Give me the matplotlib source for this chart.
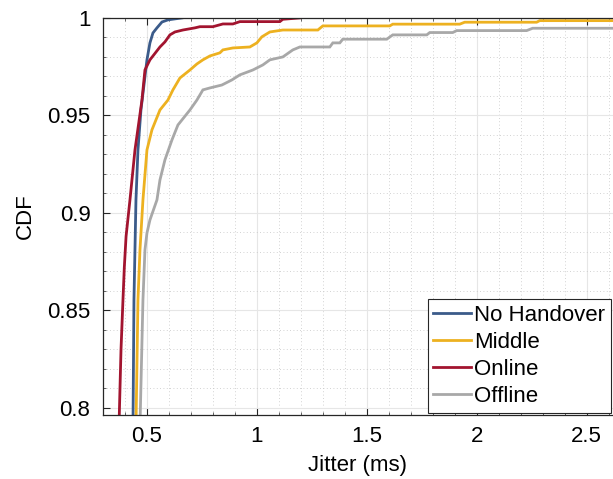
import matplotlib
matplotlib.use("Agg")
import matplotlib.pyplot as plt
from matplotlib.ticker import MultipleLocator, FormatStrFormatter

plt.rcParams['font.family'] = ['Liberation Sans', 'DejaVu Sans']

# CDF curves of jitter
no_handover_x = [0.4364, 0.4409, 0.45, 0.4591, 0.4727, 0.4864, 0.5, 0.5136, 0.5273,
                 0.5455, 0.5682, 0.5955, 0.6591]
no_handover_y = [0.79, 0.8554, 0.9067, 0.9323, 0.9528, 0.9656, 0.9785, 0.9872, 0.9923,
                 0.9949, 0.9979, 0.999, 1.0]

middle_x = [0.45, 0.4591, 0.4682, 0.4818, 0.5, 0.5227, 0.5591, 0.5955, 0.6182, 0.65,
            0.6955, 0.7273, 0.7545, 0.7864, 0.8318, 0.8455, 0.8909, 0.9682, 1.0, 1.0227,
            1.0591, 1.1182, 1.2773, 1.3, 1.6045, 1.6182, 1.9227, 1.9455, 2.2727, 2.2864, 2.7]
middle_y = [0.79, 0.8554, 0.881, 0.9067, 0.9323, 0.9426, 0.9528, 0.9579, 0.9631, 0.9692,
            0.9733, 0.9764, 0.9785, 0.9805, 0.9821, 0.9836, 0.9846, 0.9851, 0.9872, 0.9903,
            0.9928, 0.9938, 0.9938, 0.9959, 0.9959, 0.9968, 0.9968, 0.9978, 0.9978, 0.9986, 0.9986]

online_x = [0.3727, 0.382, 0.3909, 0.397, 0.4050, 0.4227, 0.4455, 0.4773, 0.4909, 0.5136,
            0.5591, 0.5818, 0.6045, 0.6273, 0.6636, 0.7182, 0.7409, 0.8, 0.8455, 0.8909,
            0.9227, 1.1045, 1.118, 1.195]
online_y = [0.79, 0.83, 0.8554, 0.872, 0.888, 0.9067, 0.9323, 0.9579, 0.9733, 0.9785,
            0.9851, 0.9877, 0.9913, 0.9928, 0.9938, 0.9949, 0.9955, 0.9955, 0.9969, 0.9969,
            0.9981, 0.9981, 0.9993, 1.0]

offline_x = [0.4682, 0.4818, 0.4909, 0.5, 0.5136, 0.5455, 0.5591, 0.5818, 0.6136, 0.6409,
             0.6955, 0.7273, 0.7545, 0.7864, 0.8409, 0.8864, 0.9227, 0.9818, 1.0273, 1.0591,
             1.1182, 1.1636, 1.1955, 1.3318, 1.3455, 1.3773, 1.3909, 1.5909, 1.6182, 1.7727,
             1.7864, 1.8909, 1.9091, 2.2273, 2.2545, 2.7]
offline_y = [0.79, 0.8554, 0.881, 0.8897, 0.8964, 0.9067, 0.9169, 0.9272, 0.9374, 0.9451,
             0.9528, 0.9579, 0.9631, 0.9641, 0.9656, 0.9682, 0.9708, 0.9733, 0.9759, 0.9785,
             0.98, 0.9836, 0.9851, 0.9851, 0.9872, 0.9872, 0.9891, 0.9891, 0.9913, 0.9913,
             0.9925, 0.9925, 0.9935, 0.9935, 0.9947, 0.9947]

series = [
    ('No Handover', no_handover_x, no_handover_y, '#3B5B8A'),
    ('Middle', middle_x, middle_y, '#EDB120'),
    ('Online', online_x, online_y, '#A2142F'),
    ('Offline', offline_x, offline_y, '#A8A8A8'),
]

fig = plt.figure(figsize=(6.13, 4.79), dpi=100)
ax = fig.add_axes([0.168, 0.1336, 0.832, 0.829])

for label, xs, ys, color in series:
    ax.plot(xs, ys, color=color, lw=2.0, label=label, solid_joinstyle='miter')

ax.set_xlim(0.3, 2.62)
ax.set_ylim(0.7964, 1.0)

ax.xaxis.set_major_locator(MultipleLocator(0.5))
ax.xaxis.set_minor_locator(MultipleLocator(0.1))
ax.yaxis.set_major_locator(MultipleLocator(0.05))
ax.yaxis.set_minor_locator(MultipleLocator(0.01))
ax.xaxis.set_major_formatter(FormatStrFormatter('%g'))
ax.yaxis.set_major_formatter(FormatStrFormatter('%g'))

ax.grid(which='major', color='#e6e6e6', lw=0.8, ls='-')
ax.grid(which='minor', color='#c4c4c4', lw=0.6, ls=(0, (1, 3)))
ax.set_axisbelow(True)

ax.tick_params(which='both', direction='in', top=True, right=False, colors='#262626',
               labelsize=16, labelcolor='black')
ax.tick_params(which='major', length=5, width=0.8)
ax.tick_params(axis='x', which='major', pad=8)
ax.tick_params(axis='y', which='major', pad=9)
ax.tick_params(which='minor', length=2.5, width=0.5)
for s in ['left', 'bottom', 'top']:
    ax.spines[s].set_color('#262626')
    ax.spines[s].set_linewidth(0.9)
ax.spines['right'].set_visible(False)

ax.set_xlabel('Jitter (ms)', fontsize=16, labelpad=6)
ax.set_ylabel('CDF', fontsize=16, labelpad=8)

leg = ax.legend(loc='lower right', fontsize=16, frameon=True, fancybox=False,
                edgecolor='#262626', framealpha=1, borderpad=0.25, labelspacing=0.28,
                handlelength=1.7, handletextpad=0.15, borderaxespad=0.1)
leg.get_frame().set_linewidth(0.8)

fig.savefig('out.png', dpi=100)
